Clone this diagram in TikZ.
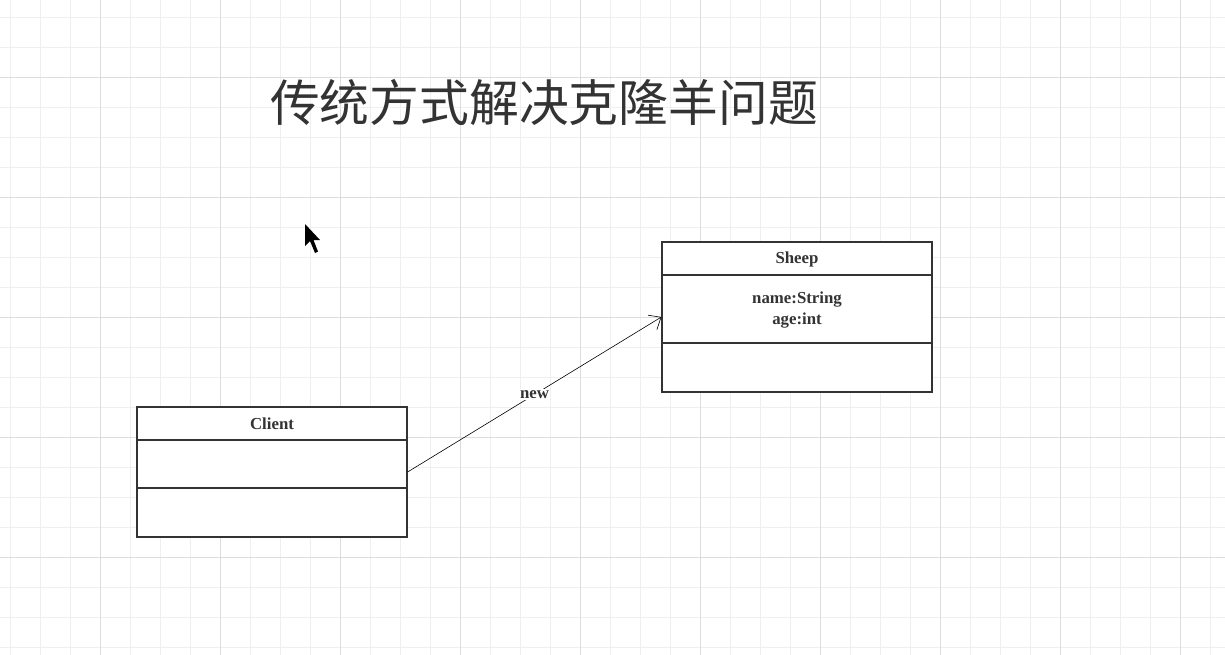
\documentclass[tikz,border=0pt]{standalone}
\usepackage{fontspec}
\setmainfont{Liberation Serif}
\newfontfamily\cjk{Noto Sans CJK SC}
\usetikzlibrary{arrows.meta}
\definecolor{ink}{HTML}{333333}
\definecolor{gridminor}{HTML}{EFEFEF}
\definecolor{gridmajor}{HTML}{DDDDDD}
\tikzset{
  umlbox/.style={draw=ink, line width=1.2pt, fill=white, inner sep=0pt},
  divider/.style={draw=ink, line width=1.2pt},
  umltext/.style={text=ink, font=\fontsize{16.8}{21}\selectfont\bfseries, align=center, inner sep=0pt},
  assoc/.style={draw=black, line width=0.6pt, -{Straight Barb[length=10pt,width=17pt,line width=0.6pt]}},
}
\begin{document}
\begin{tikzpicture}[x=1pt,y=-1pt]
\useasboundingbox (0,0) rectangle (1225,655);
\fill[white] (0,0) rectangle (1225,655);
% grid
\foreach \i in {10,40,...,1220} \draw[gridminor, line width=0.8pt] (\i,0) -- (\i,655);
\foreach \j in {17,47,...,650} \draw[gridminor, line width=0.8pt] (0,\j) -- (1225,\j);
\foreach \i in {100,220,...,1220} \draw[gridmajor, line width=0.8pt] (\i,0) -- (\i,655);
\foreach \j in {77,197,...,650} \draw[gridmajor, line width=0.8pt] (0,\j) -- (1225,\j);
% title
\node[text=ink, font=\cjk\fontsize{49.8}{58}\selectfont, inner sep=0pt] (title) at (544,103) {传统方式解决克隆羊问题};
% cursor
\fill[black] (305,224) -- (305,246) -- (310,241) -- (315,253) -- (318,251.5) -- (313.5,240) -- (320,240) -- cycle;
% Sheep class
\node[umlbox, minimum width=270pt, minimum height=150pt] (sheep) at (797,317) {};
\coordinate (s1l) at (662,275); \coordinate (s1r) at (932,275);
\coordinate (s2l) at (662,343); \coordinate (s2r) at (932,343);
\draw[divider] (s1l) -- (s1r);
\draw[divider] (s2l) -- (s2r);
\node[umltext] (sheepname) at (797,259) {Sheep};
\node[umltext] (sheepattr) at (797,310) {name:String\\age:int};
% Client class
\node[umlbox, minimum width=270pt, minimum height=130pt] (client) at (272,472) {};
\coordinate (c1l) at (137,440); \coordinate (c1r) at (407,440);
\coordinate (c2l) at (137,488); \coordinate (c2r) at (407,488);
\draw[divider] (c1l) -- (c1r);
\draw[divider] (c2l) -- (c2r);
\node[umltext] (clientname) at (272,424) {Client};
% association
\draw[assoc] (client.east) -- node[midway, fill=white, text=ink, font=\fontsize{16.8}{20}\selectfont\bfseries, inner sep=1.5pt] (newlbl) {new} (sheep.west);
\end{tikzpicture}
\end{document}
